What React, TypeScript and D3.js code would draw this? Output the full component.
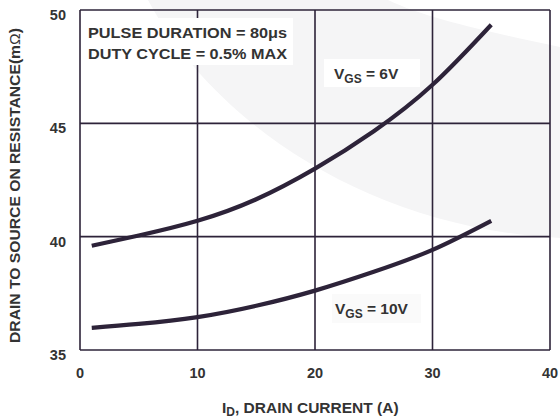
import React from "react";
import * as d3 from "d3";

const xTicks = [0, 10, 20, 30, 40];
const yTicks = [35, 40, 45, 50];
const current6V = [1, 5, 10, 15, 20, 25, 30, 35];
const res6V = [39.6, 40.05, 40.7, 41.65, 43.0, 44.65, 46.7, 49.35];
const current10V = [1, 5, 10, 15, 20, 25, 30, 35];
const res10V = [35.98, 36.15, 36.45, 36.95, 37.62, 38.45, 39.42, 40.7];

const W = 560, H = 420;
const L = 80, R = 550, T = 10, B = 350;
const ink = "#2d2339";
const txt = "#333333";
const font = "'Liberation Sans', Arial, sans-serif";

export default function App() {
  const x = d3.scaleLinear().domain([0, 40]).range([L, R]);
  const y = d3.scaleLinear().domain([35, 50]).range([B, T]);
  const line = d3
    .line<[number, number]>()
    .x((d) => x(d[0]))
    .y((d) => y(d[1]))
    .curve(d3.curveNatural);
  const p6 = line(current6V.map((c, i) => [c, res6V[i]]) as [number, number][]) || "";
  const p10 = line(current10V.map((c, i) => [c, res10V[i]]) as [number, number][]) || "";

  return (
    <svg width={W} height={H} style={{ position: "absolute", left: 0, top: 0, background: "#fff" }} fontFamily={font}>
      <rect x={0} y={0} width={W} height={H} fill="#fff" />
      <path d="M148,0 C215,125 370,228 560,238 L560,47 C500,34 430,20 388,0 Z" fill="#f5f5f6" />
      {/* grid */}
      {xTicks.map((t) => (
        <line key={"gx" + t} x1={x(t)} x2={x(t)} y1={T} y2={B} stroke={ink} strokeWidth={1.6} />
      ))}
      {yTicks.map((t) => (
        <line key={"gy" + t} x1={L} x2={R} y1={y(t)} y2={y(t)} stroke={ink} strokeWidth={1.6} />
      ))}
      {/* tick labels */}
      {yTicks.map((t) => (
        <text key={"ty" + t} x={66} y={y(t) + 10} textAnchor="end" fontSize={14.5} fontWeight="bold" fill={txt}>
          {t}
        </text>
      ))}
      {xTicks.map((t) => (
        <text key={"tx" + t} x={x(t)} y={378} textAnchor="middle" fontSize={14.5} fontWeight="bold" fill={txt}>
          {t}
        </text>
      ))}
      {/* label boxes */}
      <rect x={85} y={18} width={208} height={47} fill="#fff" />
      <text x={88} y={37.5} fontSize={15.5} fontWeight="bold" fill={txt} textLength={199} lengthAdjust="spacingAndGlyphs">
        PULSE DURATION = 80μs
      </text>
      <text x={88} y={59} fontSize={15.5} fontWeight="bold" fill={txt} textLength={199} lengthAdjust="spacingAndGlyphs">
        DUTY CYCLE = 0.5% MAX
      </text>
      <rect x={324} y={59} width={96} height={28} fill="#fff" />
      <text x={334} y={79} fontSize={15.5} fontWeight="bold" fill={txt}>
        V<tspan fontSize={12} dy={4}>GS</tspan>
        <tspan dy={-4}> = 6V</tspan>
      </text>
      <rect x={332} y={294} width={89} height={29} fill="#fafafa" />
      <text x={335} y={313.5} fontSize={15.5} fontWeight="bold" fill={txt}>
        V<tspan fontSize={12} dy={4}>GS</tspan>
        <tspan dy={-4}> = 10V</tspan>
      </text>
      {/* curves */}
      <path d={p6} fill="none" stroke={ink} strokeWidth={4.2} />
      <path d={p10} fill="none" stroke={ink} strokeWidth={4.2} />
      {/* axis titles */}
      <text x={222} y={413} fontSize={15.5} fontWeight="bold" fill={txt}>
        I<tspan fontSize={12} dy={3}>D</tspan>
        <tspan dy={-3}>, DRAIN CURRENT (A)</tspan>
      </text>
      <text
        transform={`translate(20,185.5) rotate(-90)`}
        textAnchor="middle"
        fontSize={14.5}
        fontWeight="bold"
        fill={txt}
        textLength={315}
        lengthAdjust="spacingAndGlyphs"
      >
        DRAIN TO SOURCE ON RESISTANCE(m<tspan fontWeight="normal">Ω</tspan>)
      </text>
    </svg>
  );
}
